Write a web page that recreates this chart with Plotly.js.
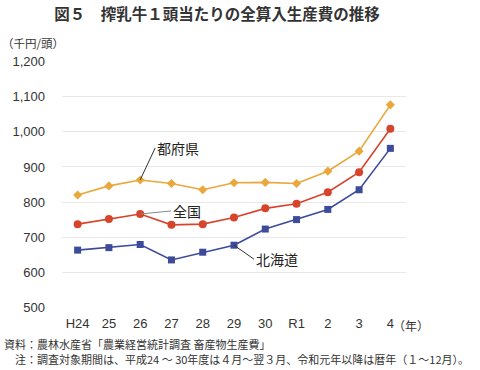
<!DOCTYPE html>
<html><head><meta charset="utf-8">
<script src="https://cdn.plot.ly/plotly-3.0.1.min.js"></script>
<style>html,body{margin:0;padding:0;background:#fff}#chart{width:480px;height:370px}</style>
</head><body><div id="chart"></div>
<script>
const years = ["H24","25","26","27","28","29","30","R1","2","3","4"];
const todofuken = [820,846,863,853,835,855,856,853,888,945,1077];
const zenkoku   = [737,752,766,735,737,756,782,795,828,885,1009];
const hokkaido  = [663,670,679,635,657,677,723,750,779,835,953];
const yTicks = [500,600,700,800,900,1000,1100,1200];
const yTickText = ["500","600","700","800","900","1,000","1,100","1,200"];

const idx = years.map((_, i) => i);
const F = 'Liberation Sans, Noto Sans CJK JP, sans-serif';
const J = 'Noto Sans CJK JP, sans-serif';

const traces = [
  {x: idx, y: todofuken, name: '都府県', mode: 'lines+markers', line: {color: '#EAA83C', width: 1.6},
   marker: {symbol: 'diamond', size: 7, color: '#EAA83C'}},
  {x: idx, y: zenkoku, name: '全国', mode: 'lines+markers', line: {color: '#D8442B', width: 1.6},
   marker: {symbol: 'circle', size: 8, color: '#D8442B'}},
  {x: idx, y: hokkaido, name: '北海道', mode: 'lines+markers', line: {color: '#3D4B9B', width: 1.6},
   marker: {symbol: 'square', size: 7, color: '#3D4B9B'}}
];

const layout = {
  width: 480, height: 370,
  margin: {l: 62, r: 74, t: 61, b: 62},
  paper_bgcolor: '#fff', plot_bgcolor: '#fff',
  showlegend: false,
  title: {text: '<b>図５　搾乳牛１頭当たりの全算入生産費の推移</b>', x: 0.452, xanchor: 'center', y: 0.96, yanchor: 'middle',
          font: {family: J, size: 15.5, color: '#333'}},
  xaxis: {range: [-0.5, 10.5], tickvals: idx, ticktext: years, showgrid: false, zeroline: false,
          showline: false, ticks: '', ticklabelstandoff: 6, tickfont: {family: F, size: 13, color: '#333'}},
  yaxis: {range: [498, 1202], tickvals: yTicks, ticktext: yTickText, showgrid: true, gridcolor: '#e8e8e8',
          gridwidth: 1, zeroline: false, showline: false, ticks: '', ticklabelstandoff: 16,
          tickfont: {family: F, size: 13, color: '#333'}},
  annotations: [
    {xref: 'paper', yref: 'paper', x: -0.18, y: 1.072, xanchor: 'left', yanchor: 'middle', showarrow: false,
     text: '（千円/頭）', font: {family: J, size: 11.5, color: '#333'}},
    {xref: 'paper', yref: 'paper', x: 0.955, y: -0.07, xanchor: 'left', yanchor: 'middle', showarrow: false,
     text: '（年）', font: {family: J, size: 12, color: '#333'}},
    {xref: 'paper', yref: 'paper', x: -0.173, y: -0.144, xanchor: 'left', yanchor: 'middle', showarrow: false,
     text: '資料：農林水産省「農業経営統計調査 畜産物生産費」', font: {family: J, size: 11, color: '#333'}},
    {xref: 'paper', yref: 'paper', x: -0.143, y: -0.205, xanchor: 'left', yanchor: 'middle', showarrow: false,
     text: '注：調査対象期間は、平成24 ～ 30年度は４月～翌３月、令和元年以降は暦年（１～12月）。', font: {family: J, size: 11, color: '#333'}},
    {x: 2, y: todofuken[2], xref: 'x', yref: 'y', ax: 15, ay: -32, text: '都府県', showarrow: true, arrowhead: 0,
     arrowwidth: 1, arrowcolor: '#333', xanchor: 'left', standoff: 0, font: {family: J, size: 14, color: '#222'}},
    {x: 2, y: zenkoku[2], xref: 'x', yref: 'y', ax: 31, ay: -3, text: '全国', showarrow: true, arrowhead: 0,
     arrowwidth: 1, arrowcolor: '#888', xanchor: 'left', standoff: 0, font: {family: J, size: 14, color: '#222'}},
    {x: 5, y: hokkaido[5], xref: 'x', yref: 'y', ax: 20, ay: 14, text: '北海道', showarrow: true, arrowhead: 0,
     arrowwidth: 1, arrowcolor: '#333', xanchor: 'left', standoff: 0, font: {family: J, size: 14, color: '#222'}}
  ]
};

Plotly.newPlot('chart', traces, layout, {displayModeBar: false, staticPlot: true});
</script></body></html>
